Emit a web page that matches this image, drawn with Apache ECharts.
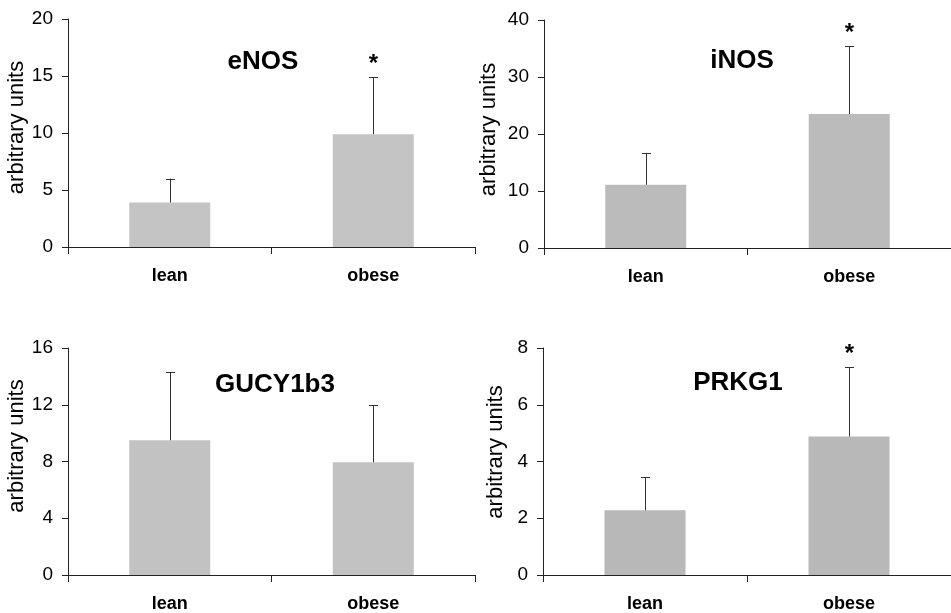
<!DOCTYPE html>
<html>
<head>
<meta charset="utf-8">
<script src="https://cdn.jsdelivr.net/npm/echarts@6/dist/echarts.min.js"></script>
<style>
html,body{margin:0;padding:0;background:#fff;}
#chart{width:951px;height:613px;}
</style>
</head>
<body>
<div id="chart"></div>
<script>
// ---- data ----
const categories = ['lean', 'obese'];
const panelNames = ['eNOS', 'iNOS', 'GUCY1b3', 'PRKG1'];
const eNOSMean = [3.9, 9.9];
const eNOSErr = [2.1, 5.0];
const iNOSMean = [11.1, 23.5];
const iNOSErr = [5.6, 11.9];
const gucyMean = [9.5, 7.95];
const gucyErr = [4.8, 4.0];
const prkgMean = [2.28, 4.88];
const prkgErr = [1.17, 2.45];
const eNOSSig = [false, true];
const iNOSSig = [false, true];
const gucySig = [false, false];
const prkgSig = [false, true];
const yMax = [20, 40, 16, 8];
const yInterval = [5, 10, 4, 2];
const yAxisTitle = 'arbitrary units';

const means = [eNOSMean, iNOSMean, gucyMean, prkgMean];
const errs = [eNOSErr, iNOSErr, gucyErr, prkgErr];
const sigs = [eNOSSig, iNOSSig, gucySig, prkgSig];

// ---- layout ----
const grids = [
  {left: 68, top: 19, width: 407, height: 228},
  {left: 544, top: 20, width: 408, height: 228},
  {left: 68, top: 348, width: 407, height: 228},
  {left: 543, top: 348, width: 420, height: 228}
];
const barColors = ['#c4c4c4', '#bbbbbb', '#c2c2c2', '#b8b8b8'];
const nameGaps = [30, 44, 29, 36];
const namePads = [11, 9, 31, 19];
const titlePos = [[263, 62], [742, 61], [275, 385], [738, 383]];
const FONT = 'Liberation Sans, Arial, sans-serif';
const axisColor = '#222';

const option = {
  animation: false,
  backgroundColor: '#fff',
  grid: grids.map(g => Object.assign({containLabel: false}, g)),
  xAxis: grids.map((g, i) => ({
    type: 'category', gridIndex: i, data: categories,
    axisLine: {lineStyle: {color: axisColor, width: 1}},
    axisTick: {show: true, length: 7, alignWithLabel: false, lineStyle: {color: axisColor}},
    axisLabel: {color: '#000', fontFamily: FONT, fontWeight: 'bold', fontSize: 18, margin: 20}
  })),
  yAxis: grids.map((g, i) => ({
    type: 'value', gridIndex: i, min: 0, max: yMax[i], interval: yInterval[i],
    name: yAxisTitle, nameLocation: 'middle', nameGap: nameGaps[i],
    nameTextStyle: {fontFamily: FONT, fontSize: 22, color: '#000', padding: [0, 0, 0, namePads[i]]},
    axisLine: {show: true, lineStyle: {color: axisColor, width: 1}},
    axisTick: {show: true, length: 6, lineStyle: {color: axisColor}},
    splitLine: {show: false},
    axisLabel: {color: '#000', fontFamily: FONT, fontSize: 19, margin: 15}
  })),
  graphic: panelNames.map((n, i) => ({
    type: 'text', x: titlePos[i][0], y: titlePos[i][1],
    style: {text: n, fill: '#000', font: 'bold 26px ' + FONT, textAlign: 'center', textVerticalAlign: 'middle'}
  })),
  series: []
};

means.forEach((m, i) => {
  option.series.push({
    type: 'bar', xAxisIndex: i, yAxisIndex: i, data: m, barWidth: 81,
    itemStyle: {color: barColors[i]}, silent: true
  });
  option.series.push({
    type: 'custom', xAxisIndex: i, yAxisIndex: i, silent: true, z: 5,
    data: m.map((v, j) => [j, v, v + errs[i][j], sigs[i][j] ? 1 : 0]),
    renderItem: function (params, api) {
      const base = api.coord([api.value(0), api.value(1)]);
      const top = api.coord([api.value(0), api.value(2)]);
      const x = Math.round(base[0]) + 0.5;
      const children = [
        {type: 'line', shape: {x1: x, y1: base[1], x2: x, y2: top[1]}, style: {stroke: '#333', lineWidth: 1}},
        {type: 'line', shape: {x1: x - 4.5, y1: Math.round(top[1]) + 0.5, x2: x + 4.5, y2: Math.round(top[1]) + 0.5}, style: {stroke: '#333', lineWidth: 1}}
      ];
      if (api.value(3) === 1) {
        children.push({type: 'text', x: x, y: top[1] - 13,
          style: {text: '*', fill: '#000', font: 'bold 24px ' + FONT, textAlign: 'center', textVerticalAlign: 'middle'}});
      }
      return {type: 'group', children: children};
    }
  });
});

const chart = echarts.init(document.getElementById('chart'), null, {renderer: 'canvas'});
chart.setOption(option);
</script>
</body>
</html>
